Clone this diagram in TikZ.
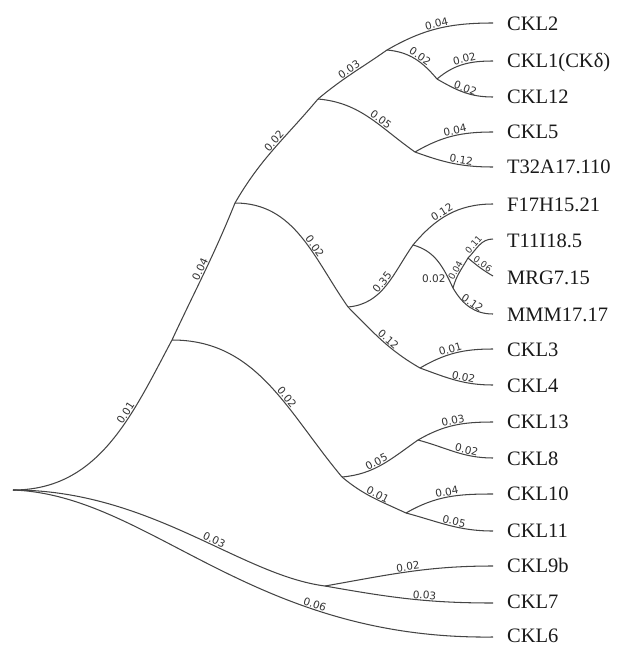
\documentclass[tikz,border=0pt]{standalone}
\usepackage{fontspec}
\setmainfont{Liberation Serif}
\newfontfamily\labfont{DejaVu Sans}
\definecolor{edgegray}{HTML}{444444}
\definecolor{labgray}{HTML}{333333}
\tikzset{
  edge/.style={draw=edgegray, line width=1.05pt},
  lab/.style={font=\labfont\fontsize{10.5}{10.5}\selectfont, text=labgray, sloped, above, inner sep=0.6pt},
  labflat/.style={font=\labfont\fontsize{10.5}{10.5}\selectfont, text=labgray, inner sep=0.6pt},
  leaf/.style={font=\fontsize{20.5}{21}\selectfont, text=black!90, anchor=west, inner xsep=0pt, inner ysep=0pt, text height=13.5pt, text depth=0pt}
}
\begin{document}
\begin{tikzpicture}[x=1pt,y=-1pt]
\useasboundingbox (0,0) rectangle (617,646);
% internal nodes
\coordinate (root) at (13,490);
\coordinate (nA) at (172,340);
\coordinate (nB) at (235,203);
\coordinate (nC) at (318,99);
\coordinate (nD) at (387,50);
\coordinate (nF) at (437,79);
\coordinate (nE) at (415,152);
\coordinate (nG) at (348,307);
\coordinate (nH) at (413,245);
\coordinate (nI) at (453,288);
\coordinate (nJ) at (468,258);
\coordinate (nK) at (420,368);
\coordinate (nL) at (342,477);
\coordinate (nM) at (418,440);
\coordinate (nN) at (406,513);
\coordinate (nO) at (325,586);
% leaf anchors (line ends)
\coordinate (eCKLtwo) at (493,23);
\coordinate (eCKLone) at (493,61);
\coordinate (eCKLtwelve) at (493,97);
\coordinate (eCKLfive) at (493,132);
\coordinate (eTth) at (493,167);
\coordinate (eF) at (493,204);
\coordinate (eTel) at (493,239);
\coordinate (eMRG) at (493,276);
\coordinate (eMMM) at (493,314);
\coordinate (eCKLthree) at (493,349);
\coordinate (eCKLfour) at (493,385);
\coordinate (eCKLthirteen) at (493,422);
\coordinate (eCKLeight) at (493,458);
\coordinate (eCKLten) at (493,494);
\coordinate (eCKLeleven) at (493,531);
\coordinate (eCKLnine) at (493,566);
\coordinate (eCKLseven) at (493,603);
\coordinate (eCKLsix) at (493,637);
% leaf labels
\node[leaf] (tCKLtwo) at (507,24) {CKL2};
\node[leaf] (tCKLone) at (507,61) {CKL1(CKδ)};
\node[leaf] (tCKLtwelve) at (507,97) {CKL12};
\node[leaf] (tCKLfive) at (507,132) {CKL5};
\node[leaf] (tTth) at (507,167) {T32A17.110};
\node[leaf] (tF) at (507,205) {F17H15.21};
\node[leaf] (tTel) at (507,241) {T11I18.5};
\node[leaf] (tMRG) at (507,278) {MRG7.15};
\node[leaf] (tMMM) at (507,315) {MMM17.17};
\node[leaf] (tCKLthree) at (507,350) {CKL3};
\node[leaf] (tCKLfour) at (507,386) {CKL4};
\node[leaf] (tCKLthirteen) at (507,422) {CKL13};
\node[leaf] (tCKLeight) at (507,459) {CKL8};
\node[leaf] (tCKLten) at (507,494) {CKL10};
\node[leaf] (tCKLeleven) at (507,531) {CKL11};
\node[leaf] (tCKLnine) at (507,566) {CKL9b};
\node[leaf] (tCKLseven) at (507,602) {CKL7};
\node[leaf] (tCKLsix) at (507,636) {CKL6};
% edges
\draw[edge] (root) to[out=0,in=-118] node[lab,pos=.65]{0.01} (nA);
\draw[edge] (nA) to[out=65,in=-112] node[lab,pos=.5]{0.04} (nB);
\draw[edge] (nB) to[out=60,in=-130] node[lab,pos=.55]{0.02} (nC);
\draw[edge] (nC) to[out=40,in=-145] node[lab,pos=.5]{0.03} (nD);
\draw[edge] (nD) to[out=30,in=180] node[lab,pos=.5]{0.04} (eCKLtwo);
\draw[edge] (nD) to[out=-5,in=130] node[lab,pos=.55]{0.02} (nF);
\draw[edge] (nF) to[out=40,in=180] node[lab,pos=.55]{0.02} (eCKLone);
\draw[edge] (nF) to[out=-30,in=180] node[lab,pos=.5,inner sep=0pt]{0.02} (eCKLtwelve);
\draw[edge] (nC) to[out=-5,in=145] node[lab,pos=.6]{0.05} (nE);
\draw[edge] (nE) to[out=30,in=180] node[lab,pos=.55]{0.04} (eCKLfive);
\draw[edge] (nE) to[out=-20,in=180] node[lab,pos=.6]{0.12} (eTth);
\draw[edge] (nB) to[out=0,in=125] node[lab,pos=.6]{0.02} (nG);
\draw[edge] (nG) to[out=5,in=-125] node[lab,pos=.5]{0.35} (nH);
\draw[edge] (nH) to[out=50,in=180] node[lab,pos=.45]{0.12} (eF);
\draw[edge] (nH) to[out=-15,in=115] node[labflat,pos=.85,anchor=east,xshift=-2pt]{0.02} (nI);
\draw[edge] (nI) to[out=75,in=-120] node[lab,pos=.5,font=\labfont\fontsize{9}{9}\selectfont]{0.04} (nJ);
\draw[edge] (nJ) to[out=45,in=180] node[lab,pos=.4,font=\labfont\fontsize{9}{9}\selectfont]{0.11} (eTel);
\draw[edge] (nJ) to[out=-40,in=150] node[lab,pos=.5,font=\labfont\fontsize{9}{9}\selectfont]{0.06} (eMRG);
\draw[edge] (nI) to[out=-60,in=180] node[lab,pos=.5]{0.12} (eMMM);
\draw[edge] (nG) to[out=-45,in=150] node[lab,pos=.55]{0.12} (nK);
\draw[edge] (nK) to[out=30,in=180] node[lab,pos=.45]{0.01} (eCKLthree);
\draw[edge] (nK) to[out=-20,in=180] node[lab,pos=.6]{0.02} (eCKLfour);
\draw[edge] (nA) to[out=0,in=130] node[lab,pos=.6]{0.02} (nL);
\draw[edge] (nL) to[out=5,in=-145] node[lab,pos=.45]{0.05} (nM);
\draw[edge] (nM) to[out=30,in=180] node[lab,pos=.5]{0.03} (eCKLthirteen);
\draw[edge] (nM) to[out=-15,in=180] node[lab,pos=.65]{0.02} (eCKLeight);
\draw[edge] (nL) to[out=-40,in=155] node[lab,pos=.55]{0.01} (nN);
\draw[edge] (nN) to[out=30,in=180] node[lab,pos=.5]{0.04} (eCKLten);
\draw[edge] (nN) to[out=-15,in=180] node[lab,pos=.55]{0.05} (eCKLeleven);
\draw[edge] (root) .. controls (150,490) and (240,575) .. node[lab,pos=.58]{0.03} (nO);
\draw[edge] (nO) to[out=10,in=180] node[lab,pos=.5]{0.02} (eCKLnine);
\draw[edge] (nO) to[out=-10,in=180] node[lab,pos=.6]{0.03} (eCKLseven);
\draw[edge] (root) .. controls (150,495) and (250,640) .. node[lab,pos=.71]{0.06} (eCKLsix);
\end{tikzpicture}
\end{document}
